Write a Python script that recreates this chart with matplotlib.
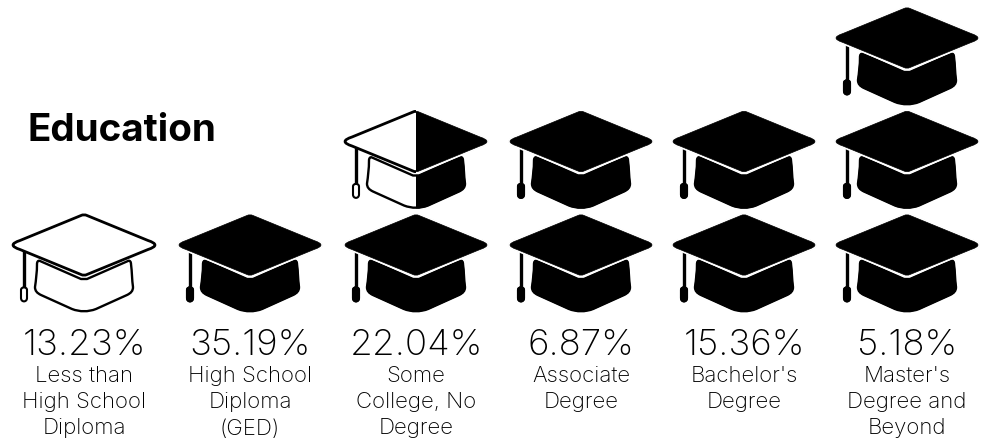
import matplotlib.pyplot as plt
from matplotlib.patches import PathPatch, Rectangle
from matplotlib.path import Path

plt.rcParams['font.family'] = ['Inter', 'DejaVu Sans']

# --- DATA ---
percents = ['13.23%', '35.19%', '22.04%', '6.87%', '15.36%', '5.18%']
categories = [
    'Less than\nHigh School\nDiploma',
    'High School\nDiploma\n(GED)',
    'Some\nCollege, No\nDegree',
    'Associate\nDegree',
    "Bachelor's\nDegree",
    "Master's\nDegree and\nBeyond",
]
# how much of each stacked cap is filled, bottom cap first
cap_fills = [
    [0],
    [1],
    [1, 0.5],
    [1, 1],
    [1, 1],
    [1, 1, 1],
]

COLUMN_X = [84, 250, 416, 581, 744, 907]
BASE_TOP = 214
ROW_STEP = 103.5
LINE_STEP = 26.5

M, L, C, Q, Z = Path.MOVETO, Path.LINETO, Path.CURVE4, Path.CURVE3, Path.CLOSEPOLY

BOARD = Path(
    [(-3, 1.5), (0, 0), (3, 1.5),
     (64, 26.5), (78, 31), (64, 35.5),
     (3, 60.5), (0, 62), (-3, 60.5),
     (-64, 35.5), (-78, 31), (-64, 26.5),
     (-3, 1.5), (-3, 1.5)],
    [M, Q, Q, L, Q, Q, L, Q, Q, L, Q, Q, L, Z],
)
BODY = Path(
    [(-44, 47), (-3, 65), (3, 65), (44, 47),
     (46, 46), (47, 48), (47, 50),
     (48, 58), (48, 66), (49, 73),
     (49, 77), (47, 79), (43, 81),
     (12, 95),
     (4, 98), (-4, 98), (-12, 95),
     (-43, 81),
     (-47, 79), (-49, 77), (-49, 73),
     (-48, 66), (-47, 58), (-47, 50),
     (-47, 48), (-46, 46), (-44, 47),
     (-44, 47)],
    [M, L, L, L,
     C, C, C,
     C, C, C,
     C, C, C,
     L,
     C, C, C,
     L,
     C, C, C,
     C, C, C,
     C, C, C,
     Z],
)
TASSEL = Path(
    [(-63, 76), (-63, 72.5), (-57, 72.5), (-57, 76), (-57, 84),
     (-57, 88.5), (-63, 88.5), (-63, 84), (-63, 76)],
    [M, C, C, C, L, C, C, C, Z],
)


def draw_part(ax, path, cx, top, fc, lw, clip=None, ec='black'):
    # local cap coordinates are shifted into figure pixels
    shifted = Path(path.vertices + [cx, top], path.codes)
    patch = PathPatch(shifted, facecolor=fc, edgecolor=ec, linewidth=lw, joinstyle='round')
    ax.add_patch(patch)
    if clip is not None:
        patch.set_clip_path(clip)
    return patch


def draw_cap(ax, cx, top, fill):
    # cord and outlined shapes come first, solid parts go over them
    ax.plot([cx - 60, cx - 60], [top + 36, top + 74], color='black', lw=2.4,
            solid_capstyle='butt', zorder=1)
    draw_part(ax, BODY, cx, top, 'white', 1.7)
    draw_part(ax, BOARD, cx, top, 'white', 2.0)
    draw_part(ax, TASSEL, cx, top, 'white', 1.5)
    if fill == 0:
        return
    if fill == 1:
        clip = None
    else:
        clip = Rectangle((cx, top - 5), 80, 115, transform=ax.transData)
    draw_part(ax, BODY, cx, top, 'black', 1.0, clip=clip)
    draw_part(ax, TASSEL, cx, top, 'black', 1.5, clip=clip)
    # white gap between board and crown
    draw_part(ax, BOARD, cx, top, 'white', 3.0, ec='white', clip=clip)
    draw_part(ax, BOARD, cx, top, 'black', 0.5, clip=clip)


fig = plt.figure(figsize=(9.86, 4.42), dpi=100)
ax = fig.add_axes([0, 0, 1, 1])
ax.set_xlim(0, 986)
ax.set_ylim(442, 0)
ax.axis('off')

for i, cx in enumerate(COLUMN_X):
    for row, fill in enumerate(cap_fills[i]):
        draw_cap(ax, cx, BASE_TOP - row * ROW_STEP, fill)

    ax.text(cx, 355, percents[i], ha='center', va='baseline', fontsize=26.5,
            fontweight='light', color='black')
    for j, line in enumerate(categories[i].split('\n')):
        ax.text(cx, 381.5 + j * LINE_STEP, line, ha='center', va='baseline',
                fontsize=16, fontweight='light', color='black')

ax.text(28, 141, 'Education', ha='left', va='baseline', fontsize=27.8,
        fontweight='bold', color='black')

fig.savefig('out.png', dpi=100)
